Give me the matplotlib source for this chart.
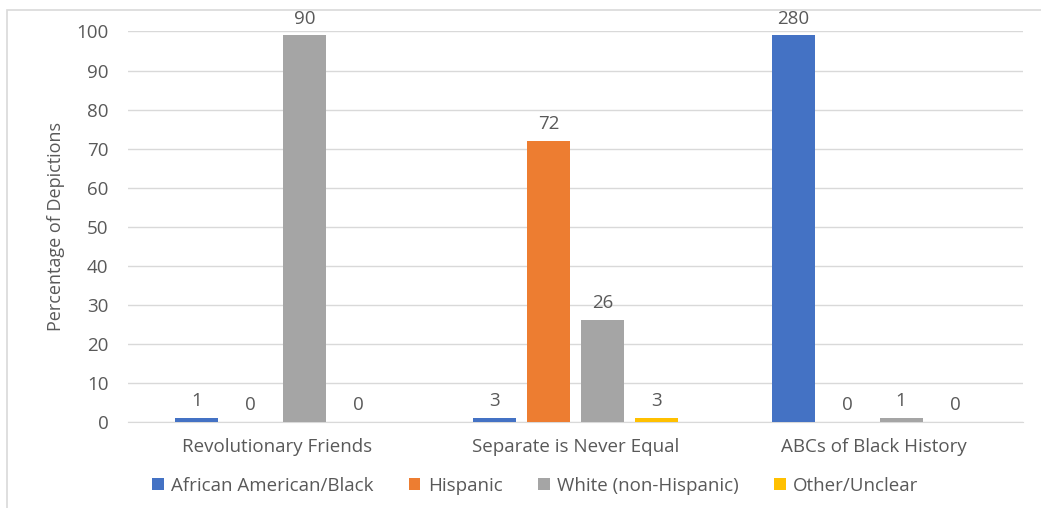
"""Depictions by race across three picture books."""

import matplotlib.pyplot as plt
import numpy as np
from matplotlib.patches import Rectangle

books = ["Revolutionary Friends", "Separate is Never Equal", "ABCs of Black History"]
groups = ["African American/Black", "Hispanic", "White (non-Hispanic)", "Other/Unclear"]
colors = ["#4472C4", "#ED7D31", "#A5A5A5", "#FFC000"]

# bar heights (percent) per group, one value per book
pct_black = [1, 1, 99]
pct_hispanic = [0, 72, 0]
pct_white = [99, 26, 1]
pct_other = [0, 1, 0]

# counts shown above the bars
cnt_black = [1, 3, 280]
cnt_hispanic = [0, 72, 0]
cnt_white = [90, 26, 1]
cnt_other = [0, 3, 0]

pcts = [pct_black, pct_hispanic, pct_white, pct_other]
counts = [cnt_black, cnt_hispanic, cnt_white, cnt_other]

plt.rcParams["font.family"] = ["Open Sans", "DejaVu Sans"]
text_col = "#595959"
fs = 13.5

fig = plt.figure(figsize=(10.41, 5.08), dpi=100)
ax = fig.add_axes([0.123, 0.17, 0.860, 0.768])

x = np.arange(len(books))
step = 0.181
width = 0.144
for i, (vals, cnts) in enumerate(zip(pcts, counts)):
    pos = x + (i - 1.5) * step
    ax.bar(pos, vals, width=width, color=colors[i], label=groups[i], zorder=3)
    for p, v, c in zip(pos, vals, cnts):
        ax.text(p, v + 2.0, str(c), ha="center", va="bottom",
                fontsize=fs, color=text_col)

ax.set_xlim(-0.5, 2.5)
ax.set_ylim(0, 100)
ax.set_yticks(range(0, 101, 10))
ax.set_xticks(x)
ax.set_xticklabels(books)
ax.tick_params(axis="both", length=0, labelsize=fs, colors=text_col)
ax.tick_params(axis="x", pad=12)
ax.tick_params(axis="y", pad=14)
ax.grid(axis="y", color="#D9D9D9", linewidth=1, zorder=0)
for s in ["top", "right", "left"]:
    ax.spines[s].set_visible(False)
ax.spines["bottom"].set_color("#D9D9D9")
ax.set_ylabel("Percentage of Depictions", fontsize=13, color=text_col, labelpad=8)

ax.legend(loc="center", bbox_to_anchor=(0.455, -0.165), ncol=4,
          frameon=False, fontsize=fs, labelcolor=text_col,
          handlelength=0.6, handleheight=0.6, handletextpad=0.4,
          columnspacing=1.9)

fig.patches.append(Rectangle((0.007, -0.01), 1.1, 0.99, transform=fig.transFigure,
                             fill=False, edgecolor="#D9D9D9", linewidth=1.2))

fig.savefig("out.png", dpi=100)
